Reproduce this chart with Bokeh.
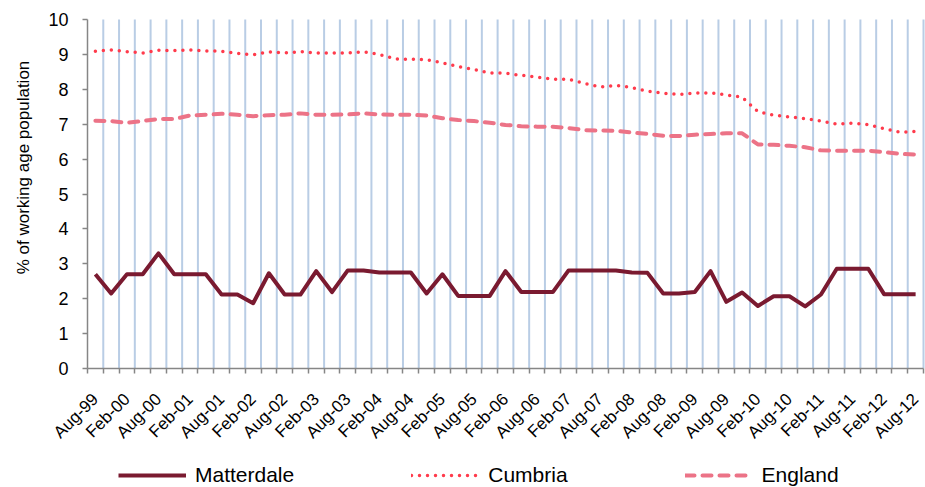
import math
from bokeh.plotting import figure
from bokeh.models import (Range1d, FixedTicker, Legend, LegendItem, Label, ColumnDataSource)
from bokeh.embed import file_html
from bokeh.resources import INLINE

# Quarterly claimant rates (% of working age population), Aug-99 .. Aug-12
tick_labels = ["Aug-99", "Feb-00", "Aug-00", "Feb-01", "Aug-01", "Feb-02", "Aug-02",
               "Feb-03", "Aug-03", "Feb-04", "Aug-04", "Feb-05", "Aug-05", "Feb-06",
               "Aug-06", "Feb-07", "Aug-07", "Feb-08", "Aug-08", "Feb-09", "Aug-09",
               "Feb-10", "Aug-10", "Feb-11", "Aug-11", "Feb-12", "Aug-12"]

matterdale = [2.70, 2.15, 2.70, 2.70, 3.30, 2.70, 2.70, 2.70, 2.12, 2.12,
              1.87, 2.73, 2.12, 2.12, 2.79, 2.19, 2.81, 2.81, 2.75, 2.75,
              2.75, 2.15, 2.70, 2.08, 2.08, 2.08, 2.79, 2.19, 2.19, 2.19,
              2.81, 2.81, 2.81, 2.81, 2.75, 2.74, 2.15, 2.15, 2.19, 2.79,
              1.91, 2.18, 1.79, 2.07, 2.07, 1.78, 2.12, 2.86, 2.86, 2.86,
              2.13, 2.13, 2.13]

cumbria = [9.09, 9.13, 9.08, 9.04, 9.12, 9.11, 9.13, 9.10, 9.09, 9.03,
           8.99, 9.07, 9.04, 9.08, 9.04, 9.04, 9.04, 9.07, 9.00, 8.87,
           8.86, 8.85, 8.76, 8.65, 8.57, 8.47, 8.46, 8.40, 8.35, 8.29,
           8.29, 8.17, 8.07, 8.11, 8.05, 7.95, 7.89, 7.85, 7.89, 7.90,
           7.84, 7.77, 7.36, 7.26, 7.21, 7.16, 7.09, 7.00, 7.03, 6.99,
           6.87, 6.77, 6.79]

england = [7.10, 7.09, 7.04, 7.09, 7.15, 7.15, 7.25, 7.27, 7.30, 7.27,
           7.23, 7.26, 7.27, 7.31, 7.27, 7.27, 7.28, 7.31, 7.28, 7.27,
           7.27, 7.25, 7.17, 7.12, 7.09, 7.04, 6.98, 6.94, 6.93, 6.93,
           6.89, 6.83, 6.82, 6.81, 6.76, 6.72, 6.67, 6.66, 6.70, 6.72,
           6.74, 6.74, 6.42, 6.41, 6.38, 6.34, 6.25, 6.24, 6.24, 6.24,
           6.20, 6.15, 6.13]

y_ticks = [0, 1, 2, 3, 4, 5, 6, 7, 8, 9, 10]
y_title = "% of working age population"

FONT = "Liberation Sans"
n = len(matterdale)

# ---- layout (pixels); the frame fills the whole canvas, axes are pinned inside it
W, H = 925, 487
LEFT, RIGHT = 87, 923           # pixel columns of the category-axis ends
TOP, AXIS_Y = 19, 368           # pixel rows of y=10 and y=0
y_lo_val, y_hi_val = y_ticks[0], y_ticks[-1]
x_lo_val, x_hi_val = -0.5, n - 0.5
px_per_unit = (AXIS_Y - TOP) / (y_hi_val - y_lo_val)
px_per_cat = (RIGHT - LEFT) / (x_hi_val - x_lo_val)
y_range = Range1d(y_lo_val - (H - AXIS_Y) / px_per_unit, y_hi_val + TOP / px_per_unit)
x_range = Range1d(x_lo_val - LEFT / px_per_cat, x_hi_val + (W - RIGHT) / px_per_cat)

xs = list(range(n))
src = ColumnDataSource(dict(x=xs, m=matterdale, c=cumbria, e=england))
boundaries = [k + 0.5 for k in range(n)]
gsrc = ColumnDataSource(dict(b=boundaries))

p = figure(width=W, height=H, x_range=x_range, y_range=y_range,
           output_backend="svg", toolbar_location=None,
           min_border_left=0, min_border_right=0, min_border_top=0, min_border_bottom=0)
p.outline_line_color = None
p.background_fill_color = "white"
p.border_fill_color = "white"
p.xgrid.grid_line_color = None
p.ygrid.grid_line_color = None

# vertical gridlines at category boundaries, spanning the value axis only
p.segment(x0="b", y0=y_lo_val, x1="b", y1=y_hi_val, source=gsrc,
          line_color="#B9CDE5", line_width=2)

# X axis, pinned at y = 0
label_pos = [2 * i for i in range(len(tick_labels))]
xa = p.xaxis[0]
xa.fixed_location = y_lo_val
xa.bounds = (x_lo_val, x_hi_val)
xa.ticker = FixedTicker(ticks=label_pos, minor_ticks=[k - 0.5 for k in range(n + 1)])
xa.major_label_overrides = {pos: lab for pos, lab in zip(label_pos, tick_labels)}
xa.major_label_orientation = math.pi / 4
xa.major_tick_out = 0
xa.major_tick_in = 0
xa.minor_tick_out = 5
xa.minor_tick_in = 0
xa.minor_tick_line_color = "#868686"
xa.minor_tick_line_width = 1.5
xa.axis_line_color = "#868686"
xa.axis_line_width = 1.5
xa.major_label_text_font = FONT
xa.major_label_text_font_size = "17px"
xa.major_label_text_color = "#000000"
xa.major_label_standoff = 23

# Y axis, pinned at the left end of the category axis
ya = p.yaxis[0]
ya.fixed_location = x_lo_val
ya.bounds = (y_lo_val, y_hi_val)
ya.ticker = FixedTicker(ticks=y_ticks)
ya.major_tick_out = 5
ya.major_tick_in = 0
ya.minor_tick_line_color = None
ya.major_tick_line_color = "#868686"
ya.major_tick_line_width = 1.5
ya.axis_line_color = "#868686"
ya.axis_line_width = 1.5
ya.major_label_text_font = FONT
ya.major_label_text_font_size = "18px"
ya.major_label_text_color = "#000000"
ya.major_label_standoff = 14

r_m = p.line("x", "m", source=src, line_color="#7A1A30", line_width=4, line_join="round")
r_c = p.line("x", "c", source=src, line_color="#FF3B4C", line_width=3.5,
             line_dash="0 8", line_cap="round")
r_e = p.line("x", "e", source=src, line_color="#EC7387", line_width=4,
             line_dash="9 8", line_cap="round")

# value-axis title
title = Label(x=23, y=H - 167, x_units="screen", y_units="screen", text=y_title,
              angle=math.pi / 2, text_align="center", text_baseline="middle",
              text_font=FONT, text_font_size="17px", text_color="#000000")
p.add_layout(title)

legend = Legend(items=[LegendItem(label="Matterdale", renderers=[r_m]),
                       LegendItem(label="Cumbria", renderers=[r_c]),
                       LegendItem(label="England", renderers=[r_e])],
                orientation="horizontal", location=(118, 0),
                glyph_width=68, glyph_height=24, label_height=24, label_standoff=9,
                spacing=117, padding=0, margin=0,
                label_text_font=FONT, label_text_font_size="21px", label_text_color="#000000",
                border_line_color=None, background_fill_alpha=0)
p.add_layout(legend, "center")

open("out.html", "w").write(file_html(p, INLINE))
